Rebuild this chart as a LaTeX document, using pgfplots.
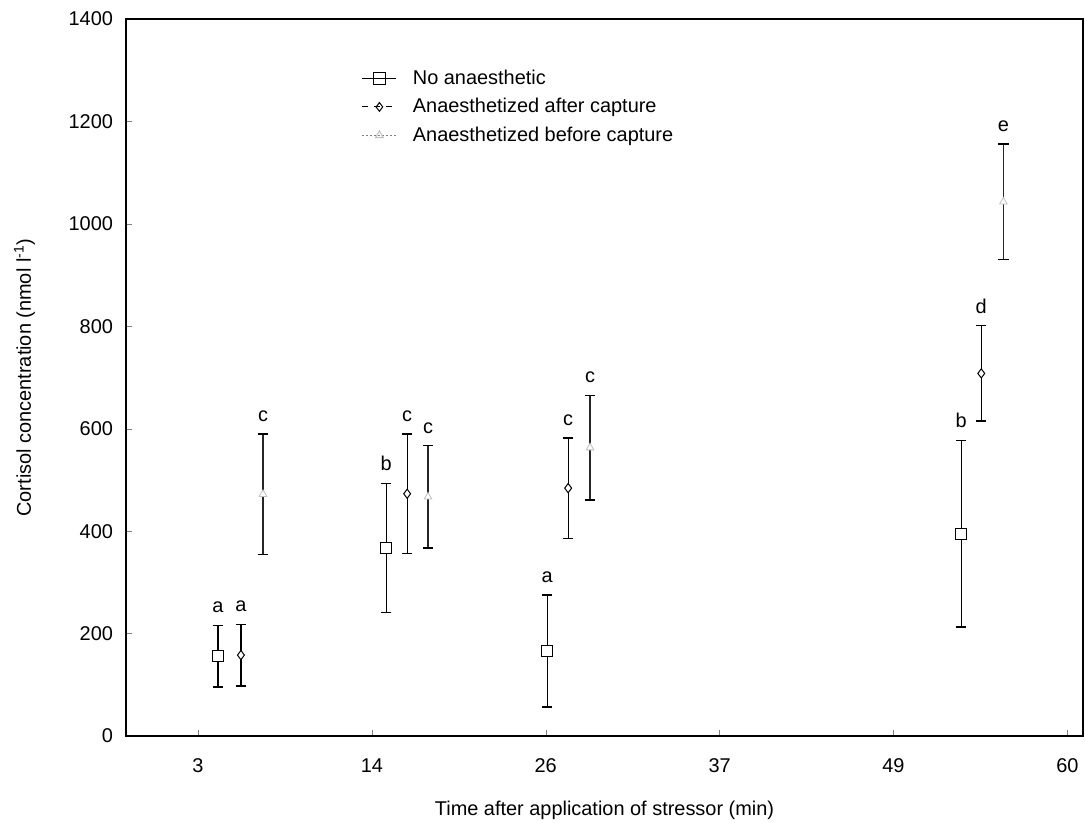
\documentclass[border=0pt]{standalone}
\usepackage{fontspec}
\setmainfont{Liberation Sans}
\usepackage{pgfplots}
\pgfplotsset{compat=1.18}
\begin{document}
\begin{tikzpicture}
\begin{axis}[
  scale only axis, width=478.5bp, height=358.5bp,
  xmin=-0.414, xmax=5.09, ymin=0, ymax=1400,
  xtick={0,1,2,3,4,5}, xticklabels={3,14,26,37,49,60},
  ytick={0,200,400,600,800,1000,1200,1400},
  tick align=inside, xtick pos=left, ytick pos=left,
  major tick length=3bp,
  /pgf/number format/assume math mode=true,
  /pgf/number format/1000 sep={},
  tick label style={font=\fontsize{10}{12}\selectfont},
  xticklabel style={yshift=-8bp},
  yticklabel style={xshift=-3bp},
  xlabel={Time after application of stressor (min)},
  ylabel={Cortisol concentration (nmol l\textsuperscript{-1})},
  label style={font=\fontsize{10}{12}\selectfont},
  xlabel style={yshift=-7bp},
  ylabel style={yshift=10bp},
  axis line style={line width=0.7pt},
  legend style={draw=none, fill=none, at={(0.244,0.938)}, anchor=north west,
    font=\fontsize{10}{12}\selectfont, row sep=1.5bp, inner sep=1bp,
    /tikz/every odd column/.append style={column sep=6bp}},
  legend cell align=left,
]
\addlegendimage{black, solid, line width=0.5pt, mark=square, mark size=2.8bp, mark options={solid, fill=white}}
\addlegendentry{No anaesthetic}
\addlegendimage{black, dash pattern=on 3bp off 3bp, line width=0.5pt, mark=diamond, mark size=2.2bp, mark options={solid}}
\addlegendentry{Anaesthetized after capture}
\addlegendimage{gray, dash pattern=on 1bp off 1bp, line width=0.5pt, mark=triangle, mark size=2.2bp, mark options={solid, draw=black!25}}
\addlegendentry{Anaesthetized before capture}

% No anaesthetic
\addplot[forget plot, only marks, black, mark=square*, mark size=2.8bp,
  mark options={fill=white, draw=black, line width=0.6pt},
  error bars/.cd, y dir=both, y explicit,
  error bar style={line width=0.6pt, black},
  error mark options={rotate=90, mark size=2.6bp, line width=0.7pt, black}]
  table[x=x, y=y, y error=e] {
x y e
0.115 156 60
1.082 367 126
2.008 166 109
4.390 395 182
};
% Anaesthetized after capture
\addplot[forget plot, only marks, black, mark=diamond*, mark size=2.3bp,
  mark options={fill=white, draw=black, line width=0.5pt},
  error bars/.cd, y dir=both, y explicit,
  error bar style={line width=0.6pt, black},
  error mark options={rotate=90, mark size=2.6bp, line width=0.7pt, black}]
  table[x=x, y=y, y error=e] {
x y e
0.247 158 60
1.203 473 117
2.129 484 98
4.505 708 93
};
% Anaesthetized before capture
\addplot[forget plot, only marks, black, mark=triangle*, mark size=2.2bp,
  mark options={fill=white, draw=black!25, line width=0.4pt},
  error bars/.cd, y dir=both, y explicit,
  error bar style={line width=0.6pt, black!85},
  error mark options={rotate=90, mark size=2.6bp, line width=0.7pt, black}]
  table[x=x, y=y, y error=e] {
x y e
0.374 472 118
1.323 467 100
2.255 563 102
4.632 1043 113
};

\pgfplotsset{every node/.append style={font=\fontsize{10}{12}\selectfont}}
\node[anchor=south, inner sep=2bp, yshift=4bp] at (axis cs:0.115,216) {a};
\node[anchor=south, inner sep=2bp, yshift=4bp] at (axis cs:0.247,218) {a};
\node[anchor=south, inner sep=2bp, yshift=4bp] at (axis cs:0.374,590) {c};
\node[anchor=south, inner sep=2bp, yshift=4bp] at (axis cs:1.082,493) {b};
\node[anchor=south, inner sep=2bp, yshift=4bp] at (axis cs:1.203,590) {c};
\node[anchor=south, inner sep=2bp, yshift=4bp] at (axis cs:1.323,567) {c};
\node[anchor=south, inner sep=2bp, yshift=4bp] at (axis cs:2.008,275) {a};
\node[anchor=south, inner sep=2bp, yshift=4bp] at (axis cs:2.129,582) {c};
\node[anchor=south, inner sep=2bp, yshift=4bp] at (axis cs:2.255,665) {c};
\node[anchor=south, inner sep=2bp, yshift=4bp] at (axis cs:4.390,577) {b};
\node[anchor=south, inner sep=2bp, yshift=4bp] at (axis cs:4.505,801) {d};
\node[anchor=south, inner sep=2bp, yshift=4bp] at (axis cs:4.632,1156) {e};
\end{axis}
\pgfresetboundingbox
\path[use as bounding box] ([xshift=-63bp,yshift=-43.5bp]current axis.south west) rectangle ([xshift=1bp,yshift=9.5bp]current axis.north east);
\end{tikzpicture}
\end{document}
